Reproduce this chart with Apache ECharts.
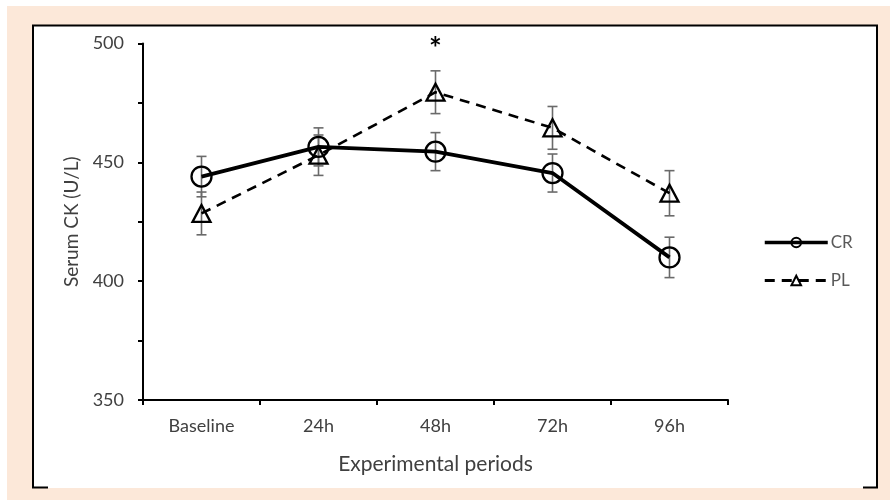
<!DOCTYPE html>
<html>
<head>
<meta charset="utf-8">
<script src="https://cdn.jsdelivr.net/npm/echarts@6/dist/echarts.min.js"></script>
<style>
  html, body { margin: 0; padding: 0; background: #fff; }
  #chart { width: 890px; height: 502px; }
</style>
</head>
<body>
<div id="chart"></div>
<script>
// data
const categories = ['Baseline', '24h', '48h', '72h', '96h'];
const crMean = [444, 456.5, 454.5, 445.5, 410];
const crErr = [8.5, 8, 8, 8, 8.5];
const plMean = [428.5, 453, 479.5, 464.5, 437];
const plErr = [9, 8.5, 9, 9, 9.5];
const yTicks = [350, 400, 450, 500];
const sigMarks = ['48h'];

const FONT = 'Lato';
const TEXT = '#404040';

function errData(mean, err) {
  return mean.map((m, i) => [i, m - err[i], m + err[i]]);
}

function errorBarItem(params, api) {
  const x = api.value(0);
  const lo = api.coord([x, api.value(1)]);
  const hi = api.coord([x, api.value(2)]);
  const w = 5;
  const style = { stroke: '#6a6a6a', lineWidth: 1.6 };
  return {
    type: 'group',
    children: [
      { type: 'line', shape: { x1: hi[0], y1: hi[1], x2: lo[0], y2: lo[1] }, style },
      { type: 'line', shape: { x1: hi[0] - w, y1: hi[1], x2: hi[0] + w, y2: hi[1] }, style },
      { type: 'line', shape: { x1: lo[0] - w, y1: lo[1], x2: lo[0] + w, y2: lo[1] }, style }
    ]
  };
}

const chart = echarts.init(document.getElementById('chart'), null, { renderer: 'canvas' });

const option = {
  animation: false,
  textStyle: { fontFamily: FONT },
  graphic: [
    // page background + white panel with its partial frame
    { type: 'rect', z: -10, shape: { x: 7, y: 6, width: 883, height: 494 }, style: { fill: '#fce8d9' } },
    { type: 'rect', z: -9, shape: { x: 32, y: 25, width: 846, height: 463 }, style: { fill: '#fff' } },
    { type: 'polyline', z: -8, shape: { points: [[48, 487.5], [33, 487.5], [33, 25.5], [877, 25.5], [877, 487.5], [863, 487.5]] },
      style: { stroke: '#000', lineWidth: 2, fill: null } }
  ],
  grid: { left: 143, right: 162, top: 43.5, bottom: 102 },
  legend: {
    data: [
      { name: 'CR', lineStyle: { width: 3.5 } },
      { name: 'PL', lineStyle: { width: 3 } }
    ],
    orient: 'vertical',
    left: 763,
    top: 234,
    padding: 0,
    itemWidth: 63,
    itemHeight: 12,
    itemGap: 21,
    textStyle: { color: '#595959', fontSize: 17, fontFamily: FONT, padding: [0, 0, 0, -2] }
  },
  xAxis: {
    type: 'category',
    data: categories,
    boundaryGap: true,
    name: 'Experimental periods',
    nameLocation: 'middle',
    nameGap: 54,
    nameTextStyle: { color: TEXT, fontSize: 21, fontFamily: FONT },
    axisLine: { lineStyle: { color: '#000', width: 2 } },
    axisTick: { show: true, length: 5, lineStyle: { color: '#000', width: 2 } },
    axisLabel: { color: TEXT, fontSize: 18, margin: 17, fontFamily: FONT },
    splitLine: { show: false }
  },
  yAxis: {
    type: 'value',
    min: 350,
    max: 500,
    interval: 25,
    name: 'Serum CK (U/L)',
    nameLocation: 'middle',
    nameGap: 62,
    nameTextStyle: { color: TEXT, fontSize: 19, fontFamily: FONT },
    axisLine: { show: true, lineStyle: { color: '#000', width: 2 } },
    axisTick: { show: true, length: 5, lineStyle: { color: '#000', width: 2 } },
    axisLabel: {
      color: TEXT, fontSize: 18, margin: 19, fontFamily: FONT,
      formatter: v => (yTicks.includes(v) ? String(v) : '')
    },
    splitLine: { show: false }
  },
  series: [
    {
      name: 'CR err',
      type: 'custom',
      renderItem: errorBarItem,
      encode: { x: 0, y: [1, 2] },
      data: errData(crMean, crErr),
      z: 1
    },
    {
      name: 'PL err',
      type: 'custom',
      renderItem: errorBarItem,
      encode: { x: 0, y: [1, 2] },
      data: errData(plMean, plErr),
      z: 1
    },
    {
      name: 'CR',
      type: 'line',
      data: crMean,
      symbol: 'circle',
      symbolSize: 20,
      itemStyle: { color: 'rgba(255,255,255,0)', borderColor: '#000', borderWidth: 2.3 },
      lineStyle: { color: '#000', width: 3.8 },
      emphasis: { disabled: true },
      z: 3
    },
    {
      name: 'PL',
      type: 'line',
      data: plMean,
      symbol: 'triangle',
      symbolSize: [18, 17],
      itemStyle: { color: 'rgba(255,255,255,0)', borderColor: '#000', borderWidth: 2.3 },
      lineStyle: { color: '#000', width: 2.6, type: [10, 7] },
      emphasis: { disabled: true },
      markPoint: {
        symbol: 'circle',
        symbolSize: 0,
        data: sigMarks.map(c => ({ coord: [c, 497.5] })),
        label: { show: true, formatter: '*', color: '#000', fontSize: 30, fontWeight: 'bold', fontFamily: FONT }
      },
      z: 3
    }
  ]
};

chart.setOption(option);
</script>
</body>
</html>
